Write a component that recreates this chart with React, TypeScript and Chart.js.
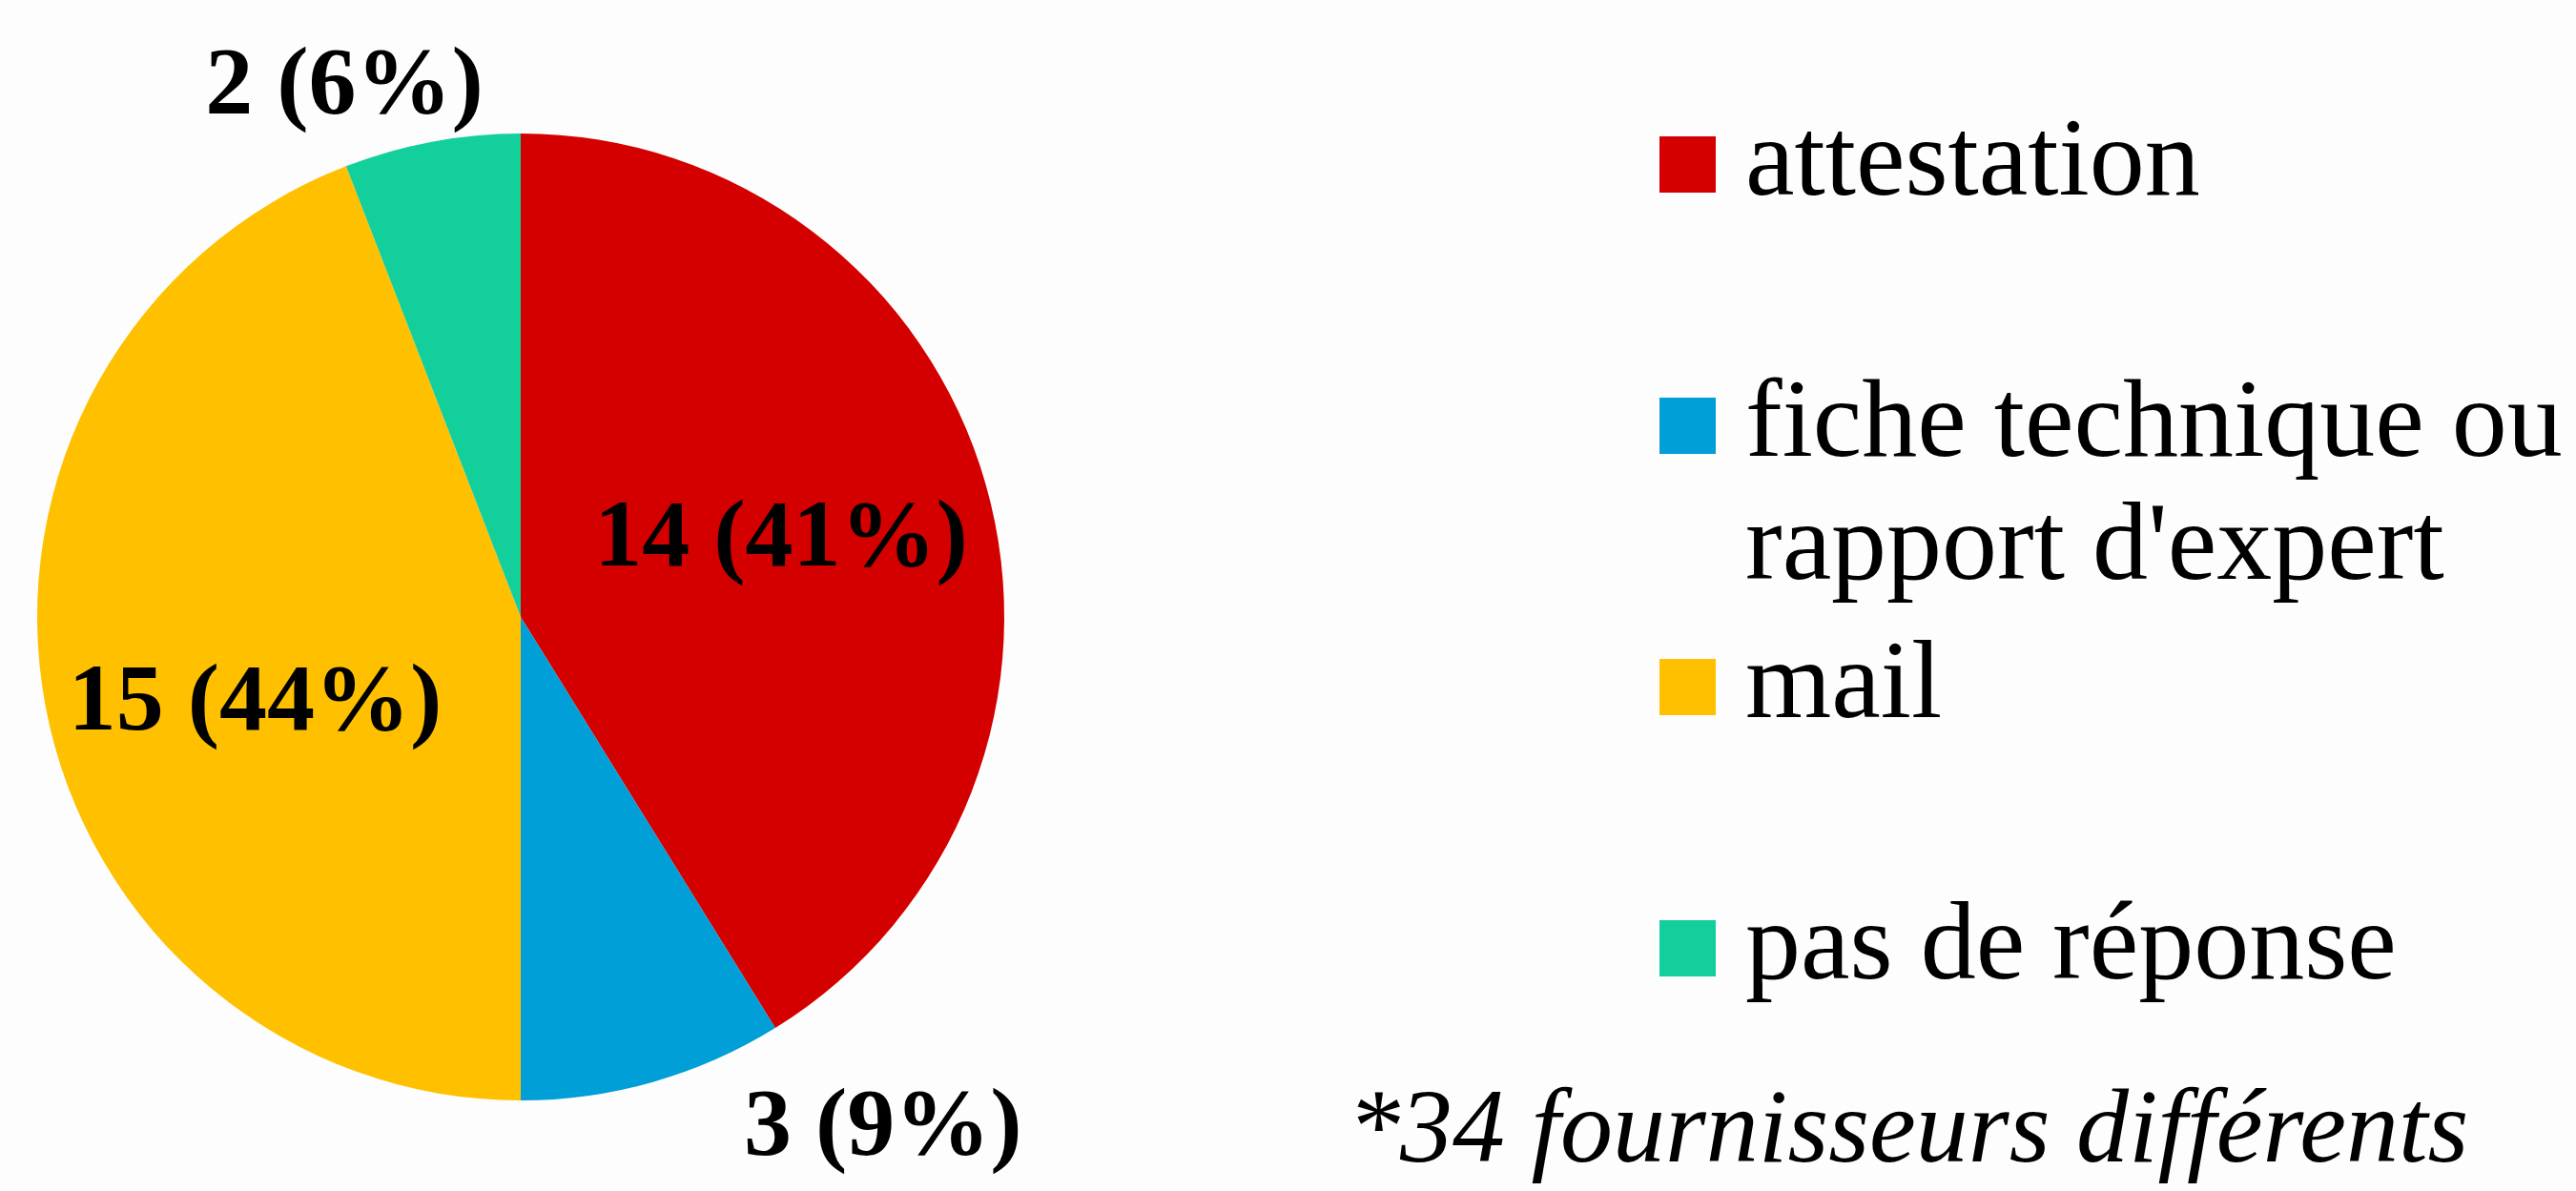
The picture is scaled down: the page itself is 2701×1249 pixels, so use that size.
import React, { useEffect, useRef } from "react";
import { Chart, registerables } from "chart.js";

Chart.register(...registerables);

const categories: (string | string[])[] = [
  "attestation",
  ["fiche technique ou", "rapport d'expert"],
  "mail",
  "pas de réponse",
];
const counts: number[] = [14, 3, 15, 2];
const sliceColors: string[] = ["#D40000", "#009FD7", "#FFC000", "#12CF9B"];
const footnote = "*34 fournisseurs différents";

const SERIF = "'Liberation Serif', 'Times New Roman', serif";

const pieLabelsPlugin = {
  id: "pieLabels",
  afterDatasetsDraw(chart: any, _args: any, opts: any) {
    const ctx = chart.ctx;
    const meta = chart.getDatasetMeta(0);
    const data: number[] = chart.data.datasets[0].data;
    const total = data.reduce((a: number, b: number) => a + b, 0);
    const place = opts.placement || [];
    ctx.save();
    ctx.fillStyle = "#000";
    ctx.font = `bold ${opts.size}px ${SERIF}`;
    ctx.textAlign = "center";
    ctx.textBaseline = "alphabetic";
    meta.data.forEach((arc: any, i: number) => {
      const p = arc.getProps(["x", "y", "startAngle", "endAngle", "outerRadius"], true);
      const pl = place[i] || { shift: 0, k: 0.56 };
      const mid = (p.startAngle + p.endAngle) / 2 + (pl.shift * Math.PI) / 180;
      const R = p.outerRadius * pl.k;
      const lx = p.x + R * Math.cos(mid);
      const ly = p.y + R * Math.sin(mid);
      const v = data[i];
      const txt = `${v} (${Math.round((v / total) * 100)}%)`;
      ctx.fillText(txt, lx, ly + opts.size * 0.24);
    });
    ctx.restore();
  },
};

const sideLegendPlugin = {
  id: "sideLegend",
  afterDraw(chart: any, _args: any, opts: any) {
    const ctx = chart.ctx;
    const labels = chart.data.labels;
    const colors = chart.data.datasets[0].backgroundColor;
    ctx.save();
    ctx.font = `${opts.size}px ${SERIF}`;
    ctx.textAlign = "left";
    ctx.textBaseline = "alphabetic";
    labels.forEach((lab: any, i: number) => {
      const top = opts.top + i * opts.step;
      ctx.fillStyle = colors[i];
      ctx.fillRect(opts.boxX, top, opts.box, opts.box);
      ctx.fillStyle = "#000";
      const lines = Array.isArray(lab) ? lab : [lab];
      lines.forEach((ln: string, j: number) => {
        ctx.fillText(ln, opts.textX, top + opts.box + 2 + j * opts.lineH);
      });
    });
    ctx.font = `italic ${opts.noteSize}px ${SERIF}`;
    ctx.fillText(opts.note, opts.noteX, opts.noteY);
    ctx.restore();
  },
};

export default function App() {
  const ref = useRef<HTMLCanvasElement | null>(null);

  useEffect(() => {
    document.body.style.margin = "0";
    document.body.style.background = "#fdfdfd";
    const canvas = ref.current;
    if (!canvas) return;
    const chart = new Chart(canvas, {
      type: "pie",
      data: {
        labels: categories as any,
        datasets: [
          {
            data: counts,
            backgroundColor: sliceColors,
            borderWidth: 0,
          },
        ],
      },
      options: {
        responsive: false,
        animation: false,
        devicePixelRatio: 1,
        layout: { padding: { left: 39, right: 1648, top: 140, bottom: 95 } },
        plugins: {
          legend: { display: false },
          tooltip: { enabled: false },
          pieLabels: {
            size: 100,
            placement: [
              { shift: 0, k: 0.56 },
              { shift: -19.3, k: 1.3 },
              { shift: -8.1, k: 0.58 },
              { shift: -7.9, k: 1.15 },
            ],
          },
          sideLegend: {
            size: 116,
            boxX: 1740,
            box: 59,
            textX: 1830,
            top: 143,
            step: 274,
            lineH: 129,
            note: footnote,
            noteSize: 110,
            noteX: 1413,
            noteY: 1218,
          },
        } as any,
      },
      plugins: [pieLabelsPlugin, sideLegendPlugin],
    });
    return () => chart.destroy();
  }, []);

  return (
    <div style={{ width: 2701, height: 1249, background: "#fdfdfd" }}>
      <canvas ref={ref} width={2701} height={1249} style={{ display: "block" }} />
    </div>
  );
}
